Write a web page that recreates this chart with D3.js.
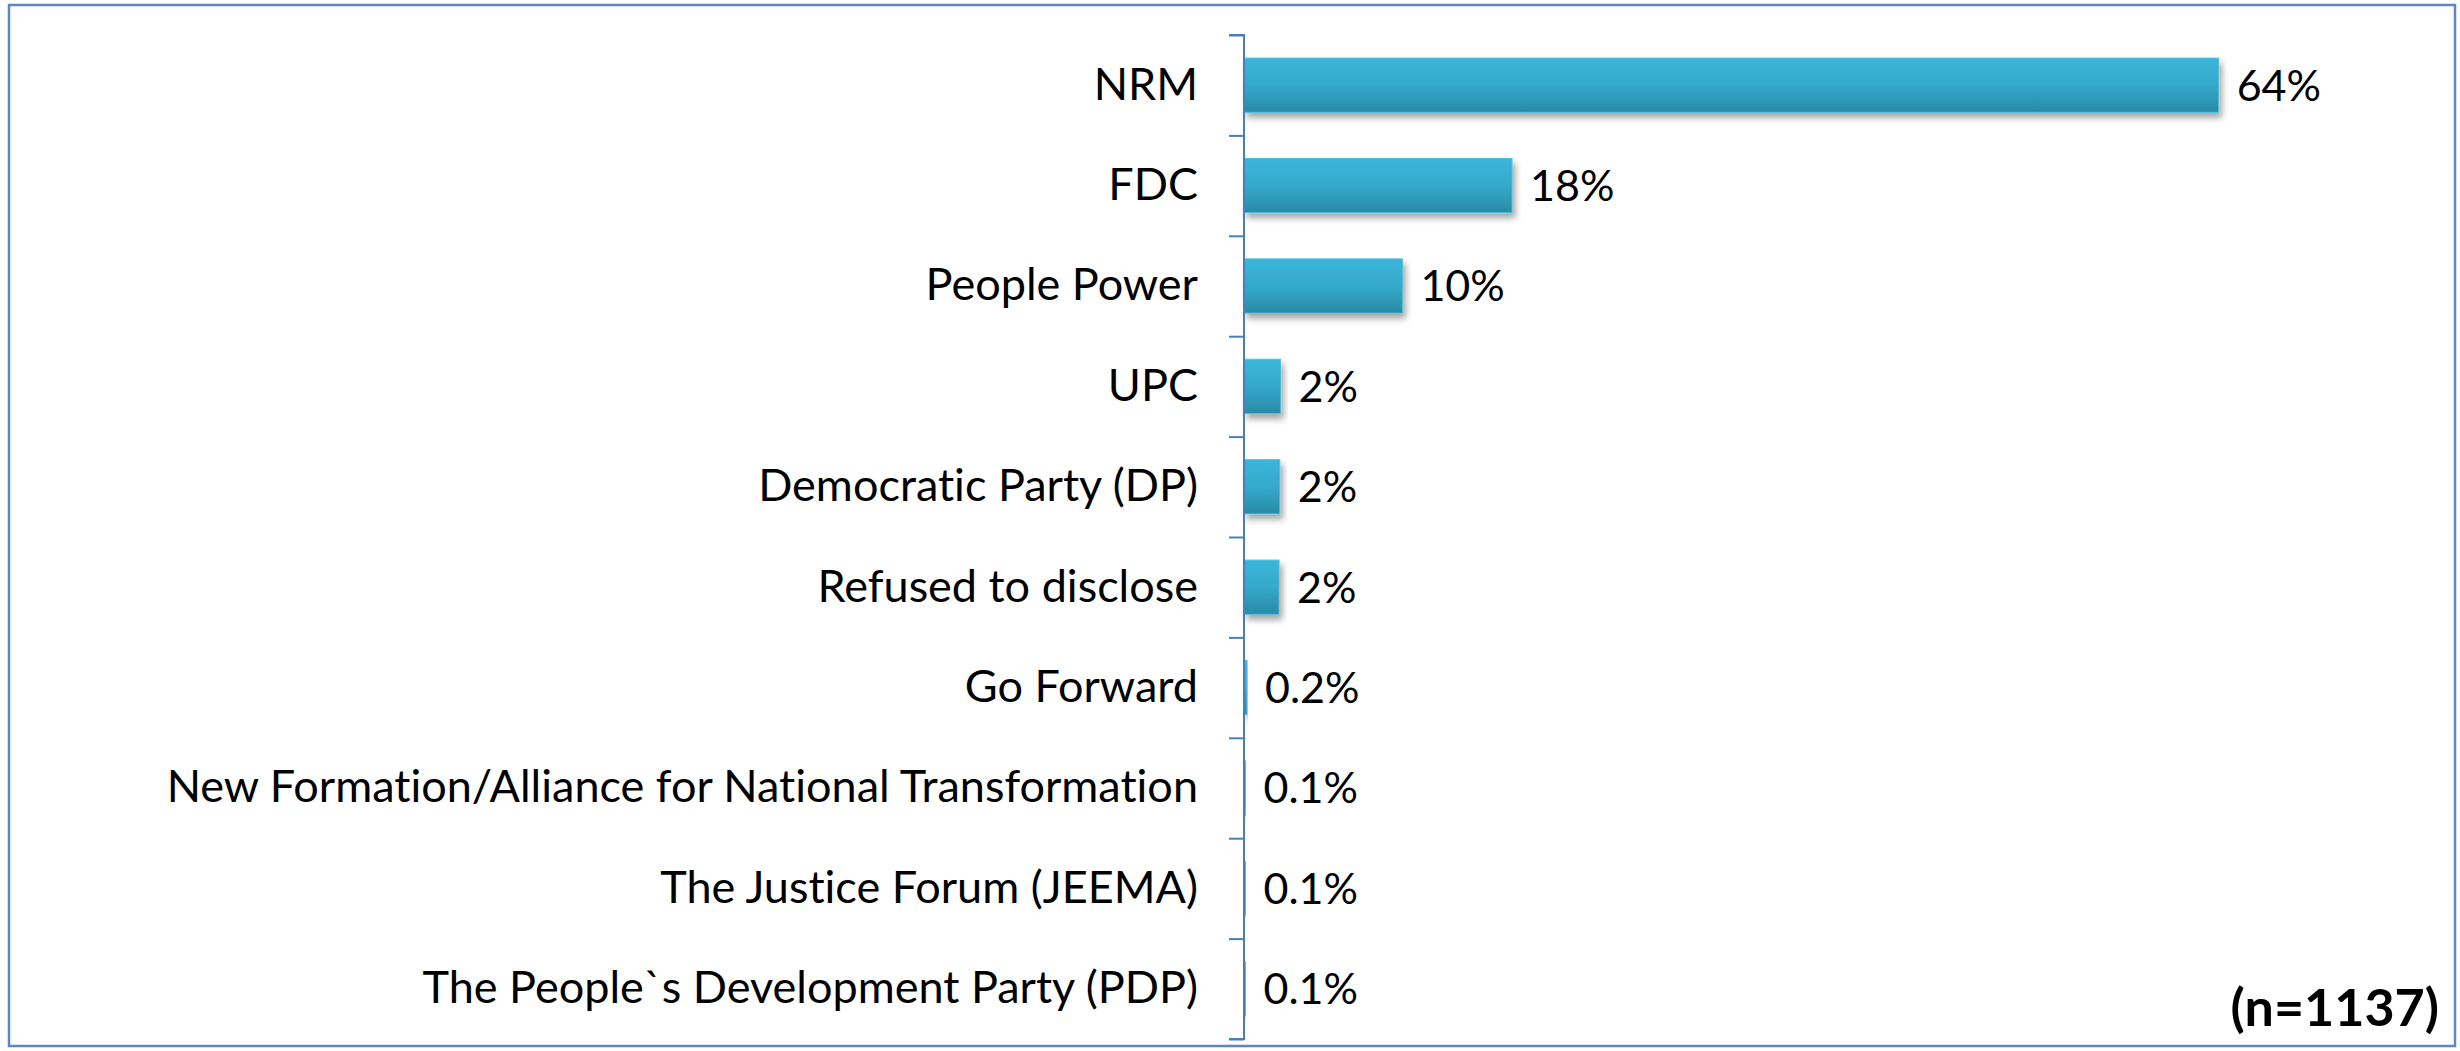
<!DOCTYPE html>
<html>
<head>
<meta charset="utf-8">
<script src="https://cdn.jsdelivr.net/npm/d3@7"></script>
<style>
  html, body { margin: 0; padding: 0; background: #fff; }
  svg { display: block; font-family: Lato, "Open Sans", sans-serif; font-variant-ligatures: none; }
</style>
</head>
<body>
<svg id="chart" width="2460" height="1051"></svg>
<script>
const categories = [
  "NRM",
  "FDC",
  "People Power",
  "UPC",
  "Democratic Party (DP)",
  "Refused to disclose",
  "Go Forward",
  "New Formation/Alliance for National Transformation",
  "The Justice Forum (JEEMA)",
  "The People`s Development Party (PDP)"
];
const values = [64.0, 17.6, 10.4, 2.4, 2.35, 2.3, 0.2, 0.1, 0.1, 0.1];
const valueLabels = ["64%", "18%", "10%", "2%", "2%", "2%", "0.2%", "0.1%", "0.1%", "0.1%"];
const sampleNote = "(n=1137)";

const svg = d3.select("#chart");
const width = +svg.attr("width");
const height = +svg.attr("height");

const axisX = 1244;
const plotTop = 35;
const plotBottom = 1039;

const data = categories.map((c, i) => ({ cat: c, v: values[i], label: valueLabels[i] }));

const xScale = d3.scaleLinear().domain([0, 70]).range([axisX, axisX + 1066]);
const yScale = d3.scaleBand()
  .domain(categories)
  .range([plotTop, plotBottom])
  .paddingInner(0.46)
  .paddingOuter(0.23);

// defs: gradient + shadow
const defs = svg.append("defs");
const grad = defs.append("linearGradient")
  .attr("id", "barGrad").attr("x1", 0).attr("y1", 0).attr("x2", 0).attr("y2", 1);
grad.append("stop").attr("offset", "0%").attr("stop-color", "#3bb5da");
grad.append("stop").attr("offset", "50%").attr("stop-color", "#34a9cb");
grad.append("stop").attr("offset", "100%").attr("stop-color", "#2a8aa6");

const shadow = defs.append("filter").attr("id", "shadow")
  .attr("x", "-10%").attr("y", "-20%").attr("width", "130%").attr("height", "160%");
shadow.append("feDropShadow")
  .attr("dx", 3).attr("dy", 5).attr("stdDeviation", 3)
  .attr("flood-color", "#000").attr("flood-opacity", 0.35);

// outer frame
svg.append("rect")
  .attr("x", 9).attr("y", 5)
  .attr("width", width - 14).attr("height", height - 10)
  .attr("fill", "none")
  .attr("stroke", "#5b87c4")
  .attr("stroke-width", 2.5);

// bars
svg.append("g").selectAll("rect")
  .data(data)
  .enter()
  .append("rect")
  .attr("x", xScale(0))
  .attr("y", d => yScale(d.cat))
  .attr("width", d => Math.max(xScale(d.v) - xScale(0), 1.5))
  .attr("height", yScale.bandwidth())
  .attr("fill", "url(#barGrad)")
  .attr("stroke", "#4cc0e0")
  .attr("stroke-width", 1)
  .attr("filter", "url(#shadow)");

// value labels
svg.append("g").selectAll("text")
  .data(data)
  .enter()
  .append("text")
  .attr("x", d => xScale(d.v) + 18)
  .attr("y", d => yScale(d.cat) + yScale.bandwidth() / 2)
  .attr("dy", "0.36em")
  .attr("font-size", 43)
  .attr("fill", "#000")
  .text(d => d.label);

// category labels
const labelAxis = svg.append("g")
  .attr("transform", `translate(${axisX},0)`)
  .call(d3.axisLeft(yScale).tickSize(0).tickPadding(46));
labelAxis.select(".domain").remove();
labelAxis.selectAll("text")
  .attr("font-size", 45)
  .attr("font-family", "Lato, 'Open Sans', sans-serif")
  .attr("fill", "#000");

// tick marks between categories
const boundary = d3.scaleLinear().domain([0, categories.length]).range([plotTop, plotBottom]);
const tickAxis = svg.append("g")
  .attr("transform", `translate(${axisX},0)`)
  .call(d3.axisLeft(boundary).ticks(categories.length).tickSize(15).tickFormat(""));
tickAxis.selectAll("line, path")
  .attr("stroke", "#4a7ebb")
  .attr("stroke-width", 2);
tickAxis.select(".domain").attr("d", `M-15,${plotTop}H0V${plotBottom}H-15`);

// sample size note
svg.append("text")
  .attr("x", 2439)
  .attr("y", 1026)
  .attr("text-anchor", "end")
  .attr("font-size", 52)
  .attr("font-weight", "bold")
  .attr("fill", "#000")
  .text(sampleNote);
</script>
</body>
</html>
